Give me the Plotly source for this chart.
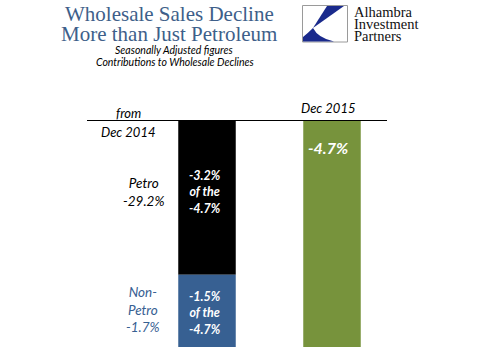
import plotly.graph_objects as go

# Data
categories = [0, 1]  # Dec 2014 contributions (stacked), Dec 2015 total
petro = [-3.2]
non_petro = [-1.5]
total = [-4.7]
petro_yoy = "-29.2%"
nonpetro_yoy = "-1.7%"

W, H = 481, 358
L, R, T, B = 87, 94, 121, 11
PW, PH = W - L - R, H - T - B

def px(x):
    return (x - L) / PW

def py(y):
    return (H - B - y) / PH

BLACK = "#000000"
BLUE = "#376092"
GREEN = "#77933C"
TITLE = "#3E5F8A"
SANS = "Lato"
SERIF = "Liberation Serif"

fig = go.Figure()
fig.add_trace(go.Bar(x=[categories[0]], y=petro, marker=dict(color=BLACK, line=dict(width=0)),
                     width=0.46, name="Petro"))
fig.add_trace(go.Bar(x=[categories[0]], y=non_petro, marker=dict(color=BLUE, line=dict(width=0)),
                     width=0.46, name="Non-Petro"))
fig.add_trace(go.Bar(x=[categories[1]], y=total, marker=dict(color=GREEN, line=dict(width=0)),
                     width=0.46, name="Total"))

ann = []
def add(text, x, y, size, color, xref="paper", yref="paper", bold=False, italic=True,
        family=SANS, xanchor="center", yanchor="middle", align="center"):
    t = text
    if bold:
        t = "<b>" + t + "</b>"
    if italic:
        t = "<i>" + t + "</i>"
    ann.append(dict(text=t, x=x, y=y, xref=xref, yref=yref, showarrow=False,
                    font=dict(size=size, color=color, family=family),
                    xanchor=xanchor, yanchor=yanchor, align=align))

# Title
add("Wholesale Sales Decline", px(169), py(14), 21, TITLE, italic=False, family=SERIF)
add("More than Just Petroleum", px(169), py(34), 21, TITLE, italic=False, family=SERIF)
add("Seasonally Adjusted figures", px(174), py(50), 10.5, "#000000")
add("Contributions to Wholesale Declines", px(175), py(62), 10.5, "#000000")

# Logo text
add("Alhambra", px(352), py(12), 14.5, "#111111", italic=False, family=SERIF, xanchor="left")
add("Investment", px(352), py(24), 14.5, "#111111", italic=False, family=SERIF, xanchor="left")
add("Partners", px(352), py(36), 14.5, "#111111", italic=False, family=SERIF, xanchor="left")

# Axis labels
add("from", px(128), py(113), 13, "#000000")
add("Dec 2014", px(128), py(132), 13, "#000000")
add("Dec 2015", px(328), py(108), 13, "#000000")

# Side labels
add("Petro<br>" + petro_yoy, px(143), py(192), 13.5, "#000000")
add("Non-<br>Petro<br>" + nonpetro_yoy, px(143), py(309), 13.5, BLUE)

# In-bar labels
add(f"{petro[0]:.1f}%<br>of the<br>{total[0]:.1f}%", px(205), py(192), 12.5, "white", bold=True)
add(f"{non_petro[0]:.1f}%<br>of the<br>{total[0]:.1f}%", px(205), py(313), 12.5, "white", bold=True)
add(f"{total[0]:.1f}%", px(328), py(147), 16, "white", bold=True)

shapes = []
# Logo box
shapes.append(dict(type="rect", xref="paper", yref="paper", x0=px(302.5), x1=px(347.5),
                   y0=py(42), y1=py(5.5), line=dict(color="#9a9a9a", width=1), fillcolor="white"))
def P(x, y):
    return f"{px(x):.5f},{py(y):.5f}"
shapes.append(dict(type="path", xref="paper", yref="paper",
                   path=f"M {P(327,6)} L {P(344,6)} L {P(313,28)} Z",
                   fillcolor="#1a2a8c", line=dict(width=0)))
shapes.append(dict(type="path", xref="paper", yref="paper",
                   path=f"M {P(313,28)} Q {P(318,38)} {P(334,41.5)} L {P(303,41.5)} L {P(303,37)} Q {P(308,33)} {P(313,28)} Z",
                   fillcolor="#1a2a8c", line=dict(width=0)))

fig.update_layout(
    width=W, height=H,
    margin=dict(l=L, r=R, t=T, b=B, pad=0),
    paper_bgcolor="white", plot_bgcolor="white",
    barmode="relative", showlegend=False,
    annotations=ann, shapes=shapes,
    xaxis=dict(range=[-0.96, 1.44], showticklabels=False, ticks="", showgrid=False,
               zeroline=False, showline=True, side="top", linecolor="black", linewidth=1.3,
               fixedrange=True),
    yaxis=dict(range=[total[0], 0], showticklabels=False, ticks="", showgrid=False,
               zeroline=False, showline=False, fixedrange=True),
)

fig.write_html("out.html", config=dict(displayModeBar=False))

# remove the browser's default page margin so the figure sits at the top-left corner
with open("out.html", "r", encoding="utf-8") as f:
    html = f.read()
html = html.replace("<head>", "<head><style>html,body{margin:0;padding:0;overflow:hidden;}</style>", 1)
with open("out.html", "w", encoding="utf-8") as f:
    f.write(html)
